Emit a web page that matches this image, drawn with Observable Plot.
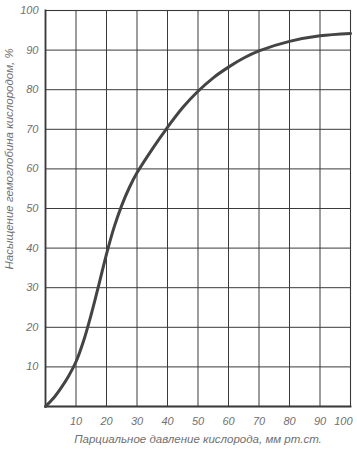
<!DOCTYPE html>
<html>
<head>
<meta charset="utf-8">
<script src="https://cdn.jsdelivr.net/npm/d3@7"></script>
<script src="https://cdn.jsdelivr.net/npm/@observablehq/plot@0.6"></script>
<style>
  html, body { margin: 0; padding: 0; background: #fff; }
  svg { display: block; }
</style>
</head>
<body>
<div id="chart"></div>
<script>
// Partial pressure of oxygen (mm Hg)
const pressure   = [0, 2.5, 5, 7.5, 10, 12.5, 15, 17.5, 20, 22.5, 25, 27.5, 30, 35, 40, 45, 50, 55, 60, 65, 70, 80, 90, 100];
// Hemoglobin oxygen saturation (%)
const saturation = [0, 2, 4.6, 7.6, 11.3, 16.6, 23.3, 30.8, 38.5, 45.3, 50.8, 55.3, 59, 65, 70.5, 75.5, 79.6, 83, 85.7, 88, 89.8, 92.2, 93.6, 94.2];
const xTicks = [10, 20, 30, 40, 50, 60, 70, 80, 90, 100];
const yTicks = [10, 20, 30, 40, 50, 60, 70, 80, 90, 100];
const xTitle = "Парциальное давление кислорода, мм рт.ст.";
const yTitle = "Насыщение гемоглобина кислородом, %";

const data = pressure.map((p, i) => ({p, s: saturation[i]}));
const ink = "#3a3a3a";
const textInk = "#707070";

const chart = Plot.plot({
  width: 357,
  height: 450,
  marginLeft: 45,
  marginRight: 7,
  marginTop: 10,
  marginBottom: 44,
  style: {fontFamily: "'Liberation Sans', sans-serif", fontStyle: "italic", fontSize: "11px", background: "#fff"},
  x: {domain: [0, 100]},
  y: {domain: [0, 100]},
  marks: [
    Plot.gridX(xTicks.slice(0, -1), {stroke: ink, strokeOpacity: 1, strokeWidth: 1}),
    Plot.gridY(yTicks.slice(0, -1), {stroke: ink, strokeOpacity: 1, strokeWidth: 1}),
    Plot.frame({stroke: ink, strokeWidth: 1.1}),
    Plot.frame({anchor: "left", stroke: ink, strokeWidth: 1.8}),
    Plot.frame({anchor: "bottom", stroke: ink, strokeWidth: 1.8}),
    Plot.axisX(xTicks.slice(0, -1), {tickSize: 0, tickPadding: 11, fill: textInk, fontSize: 11, label: null}),
    Plot.axisX(xTicks.slice(-1), {tickSize: 0, tickPadding: 11, fill: textInk, fontSize: 11, label: null, textAnchor: "end", dx: 2}),
    Plot.axisY(yTicks, {tickSize: 0, tickPadding: 7, fill: textInk, fontSize: 11, label: null}),
    Plot.text([xTitle], {frameAnchor: "bottom", dx: 0, dy: 36, fill: textInk, fontSize: 11.5, fontStyle: "italic"}),
    Plot.text([yTitle], {frameAnchor: "left", dx: -36, dy: 61, rotate: -90, fill: textInk, fontSize: 11.5, fontStyle: "italic"}),
    Plot.line(data, {x: "p", y: "s", curve: "catmull-rom", stroke: "#444", strokeWidth: 3})
  ]
});
document.getElementById("chart").appendChild(chart);
</script>
</body>
</html>
